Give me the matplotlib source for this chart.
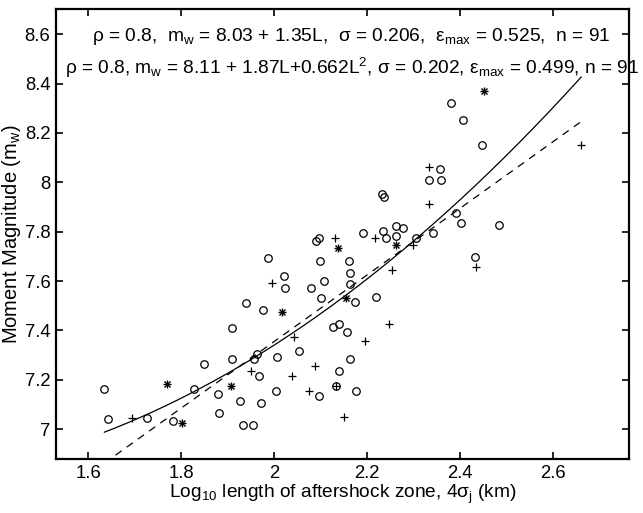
import numpy as np
import matplotlib
matplotlib.use("Agg")
import matplotlib.pyplot as plt

plt.rcParams["font.family"] = ["Liberation Sans", "DejaVu Sans"]
plt.rcParams["mathtext.fontset"] = "custom"
plt.rcParams["mathtext.rm"] = "Liberation Sans"
plt.rcParams["mathtext.it"] = "Liberation Sans"

# ── datos ──
circ_x = [2.380, 2.406, 2.446, 2.356, 2.332, 2.358, 2.231, 2.236, 2.392, 2.402,
          2.483, 2.190, 2.234, 2.241, 2.262, 2.277, 2.262, 2.304, 2.342, 2.431,
          2.160, 2.164, 2.163, 2.173, 2.219, 2.089, 2.097, 1.986, 2.098, 2.021,
          2.023, 2.080, 2.107, 2.100, 1.940, 1.975, 1.910, 2.127, 2.140, 2.157,
          2.053, 1.963, 1.957, 1.910, 2.006, 1.850, 2.164, 2.140, 1.968, 1.827,
          1.635, 1.880, 2.003, 2.096, 2.175, 1.927, 1.971, 1.882, 1.643, 1.726,
          1.782, 1.932, 1.955, 2.133]
circ_y = [8.321, 8.251, 8.153, 8.052, 8.011, 8.011, 7.951, 7.941, 7.874, 7.835,
          7.826, 7.793, 7.804, 7.776, 7.823, 7.815, 7.784, 7.776, 7.795, 7.698,
          7.683, 7.633, 7.586, 7.516, 7.535, 7.764, 7.775, 7.692, 7.683, 7.622,
          7.572, 7.572, 7.602, 7.533, 7.513, 7.484, 7.411, 7.413, 7.424, 7.393,
          7.315, 7.304, 7.283, 7.283, 7.294, 7.263, 7.286, 7.236, 7.214, 7.164,
          7.162, 7.144, 7.156, 7.136, 7.156, 7.114, 7.105, 7.066, 7.043, 7.044,
          7.034, 7.017, 7.017, 7.175]

plus_x = [2.660, 2.333, 2.333, 2.216, 2.299, 2.434, 2.254, 2.131, 1.996, 2.043,
          2.196, 2.087, 1.950, 2.039, 2.075, 2.151, 1.694, 2.246, 2.133]
plus_y = [8.152, 8.063, 7.913, 7.776, 7.745, 7.656, 7.645, 7.775, 7.593, 7.373,
          7.356, 7.255, 7.236, 7.214, 7.156, 7.048, 7.044, 7.424, 7.175]

ast_x = [2.451, 2.262, 2.154, 2.138, 2.017, 1.770, 1.907, 1.801]
ast_y = [8.370, 7.745, 7.533, 7.734, 7.473, 7.182, 7.174, 7.024]

# ajustes: L = log10(longitud) - 2.5
lin_coef = [8.03, 1.35]
cuad_coef = [8.11, 1.87, 0.662]
L0 = 2.5

xticks = [1.6, 1.8, 2.0, 2.2, 2.4, 2.6]
xtick_labels = ["1.6", "1.8", "2", "2.2", "2.4", "2.6"]
yticks = [7.0, 7.2, 7.4, 7.6, 7.8, 8.0, 8.2, 8.4, 8.6]
ytick_labels = ["7", "7.2", "7.4", "7.6", "7.8", "8", "8.2", "8.4", "8.6"]

texto1 = (r"ρ = 0.8,  m$_\mathrm{w}$ = 8.03 + 1.35L,  σ = 0.206,  "
          r"ε$_\mathrm{max}$ = 0.525,  n = 91")
texto2 = (r"ρ = 0.8, m$_\mathrm{w}$ = 8.11 + 1.87L+0.662L$^2$, σ = 0.202, "
          r"ε$_\mathrm{max}$ = 0.499, n = 91")

# ── Gráfico ──
fig = plt.figure(figsize=(6.43, 5.13), dpi=100)
ax = fig.add_axes([0.0871, 0.1047, 0.8912, 0.8778])

ax.plot(circ_x, circ_y, "o", mfc="none", mec="black", ms=5.4, mew=0.9)
ax.plot(plus_x, plus_y, "+", color="black", ms=6, mew=0.9)
ax.plot(ast_x, ast_y, "+", color="black", ms=5.5, mew=1.0)
ax.plot(ast_x, ast_y, "x", color="black", ms=4.2, mew=1.0)

xs = np.linspace(min(circ_x), max(plus_x), 200)
L = xs - L0
ax.plot(xs, lin_coef[0] + lin_coef[1] * L, "--", color="black", lw=0.9,
        dashes=(6, 5))
ax.plot(xs, cuad_coef[0] + cuad_coef[1] * L + cuad_coef[2] * L ** 2, "-",
        color="black", lw=0.9)

ax.set_xlim(1.531, 2.763)
ax.set_ylim(6.878, 8.702)
ax.set_xticks(xticks)
ax.set_xticklabels(xtick_labels)
ax.set_yticks(yticks)
ax.set_yticklabels(ytick_labels)
ax.tick_params(direction="in", top=True, right=True, length=5, width=1.2,
               labelsize=13.3, pad=4)
for s in ax.spines.values():
    s.set_linewidth(1.6)

ax.set_xlabel(r"Log$_{10}$ length of aftershock zone, 4σ$_\mathrm{j}$ (km)",
              fontsize=13.8, labelpad=1)
ax.set_ylabel(r"Moment Magnitude (m$_\mathrm{w}$)", fontsize=14.5, labelpad=1)

ax.text(1.6086, 8.592, texto1, fontsize=13.8, va="center", ha="left")
ax.text(1.550, 8.463, texto2, fontsize=13.8, va="center", ha="left",
        clip_on=False)

plt.savefig("out.png", dpi=100)
plt.close()
